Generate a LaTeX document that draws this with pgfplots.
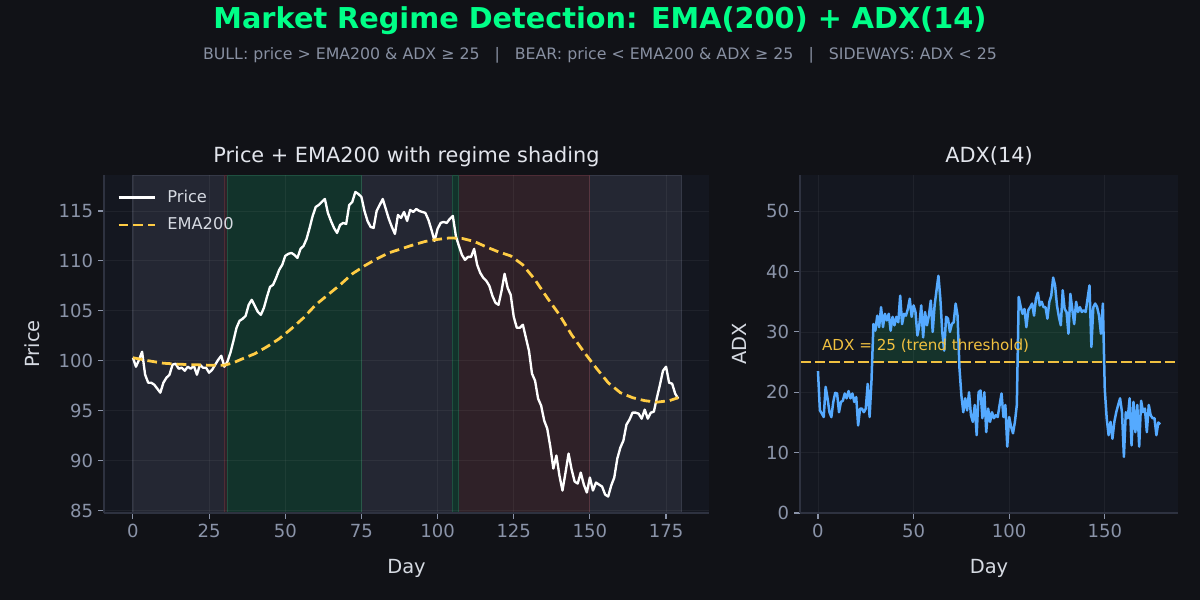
\documentclass[border=0pt]{standalone}
\usepackage{fontspec}
\setmainfont{DejaVu Sans}
\usepackage{pgfplots}
\usepackage{pgfplotstable}
\pgfplotsset{compat=1.18}

\definecolor{figbg}{HTML}{111217}
\definecolor{axbg}{HTML}{141720}
\definecolor{sidefill}{HTML}{242733}
\definecolor{sideedge}{HTML}{353947}
\definecolor{bullfill}{HTML}{12332B}
\definecolor{bulledge}{HTML}{1F5040}
\definecolor{bearfill}{HTML}{2F2128}
\definecolor{bearedge}{HTML}{4E2C36}
\definecolor{adxfill}{HTML}{15332B}
\definecolor{spinecol}{HTML}{2E3240}
\definecolor{tickcol}{HTML}{8A93A8}
\definecolor{labcol}{HTML}{D6DAE2}
\definecolor{titlecol}{HTML}{E2E5EC}
\definecolor{titlegreen}{HTML}{00FF88}
\definecolor{subcol}{HTML}{8890A2}
\definecolor{emacol}{HTML}{FFCC44}
\definecolor{adxcol}{HTML}{55AAFF}
\definecolor{thrcol}{HTML}{F0C040}

% price, one value per day
\pgfplotstableread{
day price
0 100.3
1 99.4
2 100.1
3 100.9
4 98.6
5 97.8
6 97.8
7 97.6
8 97.2
9 96.8
10 97.8
11 98.3
12 98.6
13 99.6
14 99.7
15 99.2
16 99.3
17 99.0
18 99.4
19 99.2
20 99.5
21 98.6
22 99.6
23 99.3
24 99.3
25 98.8
26 99.1
27 99.6
28 100.1
29 100.5
30 99.4
31 99.9
32 100.8
33 102.0
34 103.3
35 104.0
36 104.2
37 104.5
38 105.6
39 106.1
40 105.5
41 104.9
42 104.6
43 105.3
44 106.4
45 107.4
46 107.6
47 108.3
48 109.1
49 109.6
50 110.5
51 110.7
52 110.8
53 110.6
54 110.3
55 111.2
56 111.5
57 112.2
58 113.3
59 114.5
60 115.4
61 115.6
62 115.9
63 116.2
64 114.8
65 114.0
66 113.3
67 112.8
68 113.6
69 113.8
70 113.7
71 115.6
72 115.9
73 116.9
74 116.7
75 116.4
76 115.0
77 114.0
78 113.4
79 113.3
80 115.0
81 115.6
82 116.2
83 115.2
84 114.2
85 113.4
86 112.7
87 114.6
88 114.3
89 114.9
90 114.0
91 115.1
92 114.9
93 115.2
94 115.0
95 114.9
96 114.8
97 114.1
98 113.1
99 112.0
100 113.2
101 113.8
102 113.9
103 113.8
104 114.2
105 114.5
106 112.5
107 111.5
108 110.6
109 110.1
110 110.4
111 110.4
112 111.2
113 109.6
114 108.8
115 108.3
116 108.0
117 107.5
118 106.5
119 105.8
120 105.6
121 107.0
122 108.7
123 107.3
124 106.6
125 104.4
126 103.3
127 103.3
128 103.6
129 102.3
130 101.0
131 98.7
132 98.0
133 96.2
134 95.5
135 94.0
136 93.2
137 91.4
138 89.2
139 90.5
140 88.5
141 87.0
142 88.8
143 90.7
144 89.1
145 87.9
146 87.7
147 88.8
148 87.6
149 86.8
150 88.3
151 87.0
152 87.8
153 87.6
154 87.4
155 86.6
156 86.4
157 87.5
158 88.3
159 90.2
160 91.3
161 92.0
162 93.6
163 94.1
164 94.8
165 94.8
166 94.7
167 94.2
168 95.1
169 94.2
170 94.8
171 94.9
172 96.3
173 97.6
174 99.0
175 99.4
176 97.8
177 97.7
178 96.7
179 96.2
}\pricedata

\pgfplotstableread{
day ema
0 100.3
5 100.0
10 99.75
15 99.65
20 99.6
25 99.55
30 99.55
33 99.8
36 100.2
40 100.7
44 101.4
48 102.2
52 103.2
56 104.3
60 105.6
64 106.6
68 107.6
72 108.7
76 109.5
80 110.2
84 110.8
88 111.2
92 111.6
96 111.95
100 112.15
104 112.3
108 112.25
112 111.95
116 111.4
120 110.9
124 110.5
128 109.6
132 108.1
136 106.3
140 104.6
144 102.6
148 100.9
152 99.3
156 97.8
160 96.8
164 96.3
168 96.0
172 95.85
176 96.0
179 96.3
}\emadata

\pgfplotstableread{
day adx
0 23.5
1 17.0
2 16.5
3 15.9
4 20.9
5 19.0
6 16.7
7 15.9
8 18.4
9 19.9
10 19.8
11 16.7
12 18.4
13 18.6
14 19.8
15 19.0
16 20.2
17 19.0
18 19.8
19 18.4
20 19.2
21 14.5
22 17.3
23 17.3
24 16.7
25 17.3
26 21.4
27 15.9
28 22.0
29 31.3
30 30.2
31 32.7
32 30.8
33 34.1
34 30.8
35 33.0
36 31.9
37 33.0
38 30.2
39 32.5
40 31.1
41 32.5
42 31.6
43 36.0
44 31.3
45 33.0
46 32.7
47 33.8
48 35.5
49 32.5
50 34.4
51 33.3
52 29.4
53 31.1
54 34.4
55 29.1
56 33.3
57 31.1
58 32.7
59 35.2
60 30.0
61 34.4
62 36.9
63 39.3
64 35.5
65 30.0
66 26.9
67 32.5
68 32.2
69 30.0
70 31.3
71 31.6
72 34.7
73 32.7
74 24.0
75 19.5
76 16.7
77 19.0
78 17.0
79 20.0
80 16.2
81 15.1
82 17.9
83 12.9
84 20.0
85 20.3
86 15.7
87 20.0
88 13.4
89 17.3
90 15.1
91 16.7
92 15.7
93 16.2
94 15.9
95 17.9
96 19.8
97 15.9
98 17.9
99 11.0
100 15.9
101 14.3
102 13.2
103 15.1
104 17.9
105 35.8
106 34.2
107 33.0
108 33.8
109 30.8
110 33.6
111 34.1
112 34.7
113 32.7
114 35.5
115 36.5
116 34.4
117 35.0
118 34.1
119 34.1
120 32.2
121 35.0
122 36.0
123 39.0
124 37.7
125 34.4
126 32.5
127 31.1
128 36.9
129 33.8
130 33.3
131 29.7
132 36.3
133 33.8
134 31.3
135 35.0
136 33.3
137 34.1
138 33.3
139 33.6
140 33.3
141 35.5
142 37.7
143 27.5
144 34.1
145 34.7
146 34.1
147 32.7
148 29.7
149 34.7
150 20.5
151 15.7
152 12.9
153 15.1
154 12.3
155 15.1
156 16.7
157 17.9
158 19.0
159 16.7
160 9.3
161 16.7
162 15.7
163 19.0
164 11.2
165 18.4
166 13.4
167 17.9
168 11.0
169 18.6
170 16.7
171 17.3
172 13.4
173 17.9
174 16.2
175 15.7
176 15.7
177 12.9
178 15.0
179 14.7
}\adxdata

% trending stretches of ADX, closed on the 25 line for the green fill
\pgfplotstableread{
day adx
29 25
29 31.3
30 30.2
31 32.7
32 30.8
33 34.1
34 30.8
35 33.0
36 31.9
37 33.0
38 30.2
39 32.5
40 31.1
41 32.5
42 31.6
43 36.0
44 31.3
45 33.0
46 32.7
47 33.8
48 35.5
49 32.5
50 34.4
51 33.3
52 29.4
53 31.1
54 34.4
55 29.1
56 33.3
57 31.1
58 32.7
59 35.2
60 30.0
61 34.4
62 36.9
63 39.3
64 35.5
65 30.0
66 26.9
67 32.5
68 32.2
69 30.0
70 31.3
71 31.6
72 34.7
73 32.7
73 25
}\trendA

\pgfplotstableread{
day adx
105 25
105 35.8
106 34.2
107 33.0
108 33.8
109 30.8
110 33.6
111 34.1
112 34.7
113 32.7
114 35.5
115 36.5
116 34.4
117 35.0
118 34.1
119 34.1
120 32.2
121 35.0
122 36.0
123 39.0
124 37.7
125 34.4
126 32.5
127 31.1
128 36.9
129 33.8
130 33.3
131 29.7
132 36.3
133 33.8
134 31.3
135 35.0
136 33.3
137 34.1
138 33.3
139 33.6
140 33.3
141 35.5
142 37.7
143 27.5
144 34.1
145 34.7
146 34.1
147 32.7
148 29.7
149 34.7
149 25
}\trendB

\pgfplotsset{
  darkax/.style={
    scale only axis, anchor=south west,
    axis background/.style={fill=axbg},
    axis x line*=bottom, axis y line*=left,
    axis line style={draw=spinecol, line width=0.8pt},
    axis on top,
    tick align=outside, major tick length=4.3pt,
    tick style={draw=tickcol, line width=0.8pt},
    grid=major, grid style={draw=white, opacity=0.05, line width=0.6pt},
    ticklabel style={text=tickcol, font=\fontsize{13}{15}\selectfont},
    /pgf/number format/assume math mode=true,
    label style={text=labcol, font=\fontsize{14}{16}\selectfont},
    title style={text=titlecol, font=\fontsize{15}{18}\selectfont,
      at={(0.5,1)}, anchor=base, yshift=3.1pt},
    xlabel style={at={(axis description cs:0.5,0)}, anchor=base, yshift=-43.4pt},
  },
  span/.style={line width=0.7pt, forget plot},
}

\begin{document}
\begin{tikzpicture}
\fill[figbg] (0,0) rectangle (864pt,432pt);
\useasboundingbox (0,0) rectangle (864pt,432pt);

\node[anchor=base, text=titlegreen, font=\bfseries\fontsize{20.7}{24}\selectfont]
  at (432pt,411.6pt) {Market Regime Detection: EMA(200) + ADX(14)};
\node[anchor=base, text=subcol, font=\fontsize{11.35}{13}\selectfont]
  at (432pt,388.8pt) {BULL: price > EMA200 \& ADX ≥ 25\ \ \ |\ \ \ BEAR: price < EMA200 \& ADX ≥ 25\ \ \ |\ \ \ SIDEWAYS: ADX < 25};

% left panel
\begin{axis}[darkax,
  at={(74.88pt,62.64pt)}, width=435.6pt, height=243.36pt,
  xmin=-9.5, xmax=189.1, ymin=84.75, ymax=118.6,
  xtick={0,25,...,175}, ytick={85,90,...,115},
  title={Price + EMA200 with regime shading},
  xlabel={Day}, ylabel={Price},
  ylabel style={at={(axis description cs:-0.119,0.5)}, anchor=center},
  legend style={at={(axis description cs:0.017,0.972)}, anchor=north west,
    draw=none, fill=none, text=labcol, font=\fontsize{11.7}{14}\selectfont,
    inner xsep=2pt, inner ysep=2pt, row sep=5.5pt},
  legend cell align=left,
  legend image code/.code={\draw[#1] (0pt,0pt) -- (26pt,0pt); \path (32pt,0pt);},
]
\addplot[span, fill=sidefill, draw=sideedge] coordinates {(0,84.75) (30,84.75) (30,118.6) (0,118.6) (0,84.75)};
\addplot[span, fill=sidefill, draw=sideedge] coordinates {(75,84.75) (105,84.75) (105,118.6) (75,118.6) (75,84.75)};
\addplot[span, fill=sidefill, draw=sideedge] coordinates {(150,84.75) (180,84.75) (180,118.6) (150,118.6) (150,84.75)};
\addplot[span, fill=bearfill, draw=bearedge] coordinates {(30,84.75) (31,84.75) (31,118.6) (30,118.6) (30,84.75)};
\addplot[span, fill=bearfill, draw=bearedge] coordinates {(107,84.75) (150,84.75) (150,118.6) (107,118.6) (107,84.75)};
\addplot[span, fill=bullfill, draw=bulledge] coordinates {(31,84.75) (75,84.75) (75,118.6) (31,118.6) (31,84.75)};
\addplot[span, fill=bullfill, draw=bulledge] coordinates {(105,84.75) (107,84.75) (107,118.6) (105,118.6) (105,84.75)};
\addplot[white, line width=1.7pt, line join=round] table[x=day, y=price] {\pricedata};
\addlegendentry{Price}
\addplot[emacol, line width=2pt, dash pattern=on 7pt off 3.6pt] table[x=day, y=ema] {\emadata};
\addlegendentry{EMA200}
\end{axis}

% right panel
\begin{axis}[darkax,
  at={(576pt,62.64pt)}, width=272.16pt, height=243.36pt,
  xmin=-9.4, xmax=188.3, ymin=0, ymax=56,
  xtick={0,50,100,150}, ytick={0,10,...,50},
  title={ADX(14)},
  xlabel={Day}, ylabel={ADX},
  ylabel style={at={(axis description cs:-0.159,0.5)}, anchor=center},
]
\addplot[fill=adxfill, draw=none, forget plot] table[x=day, y=adx] {\trendA};
\addplot[fill=adxfill, draw=none, forget plot] table[x=day, y=adx] {\trendB};
\addplot[thrcol, line width=1.7pt, dash pattern=on 7.7pt off 2.8pt] coordinates {(-9.4,25) (188.3,25)};
\addplot[adxcol, line width=1.8pt, line join=round] table[x=day, y=adx] {\adxdata};
\node[anchor=base west, inner sep=0pt, text=thrcol, font=\fontsize{10.9}{13}\selectfont]
  at (axis cs:2,26.9) {ADX = 25 (trend threshold)};
\end{axis}
\end{tikzpicture}
\end{document}
